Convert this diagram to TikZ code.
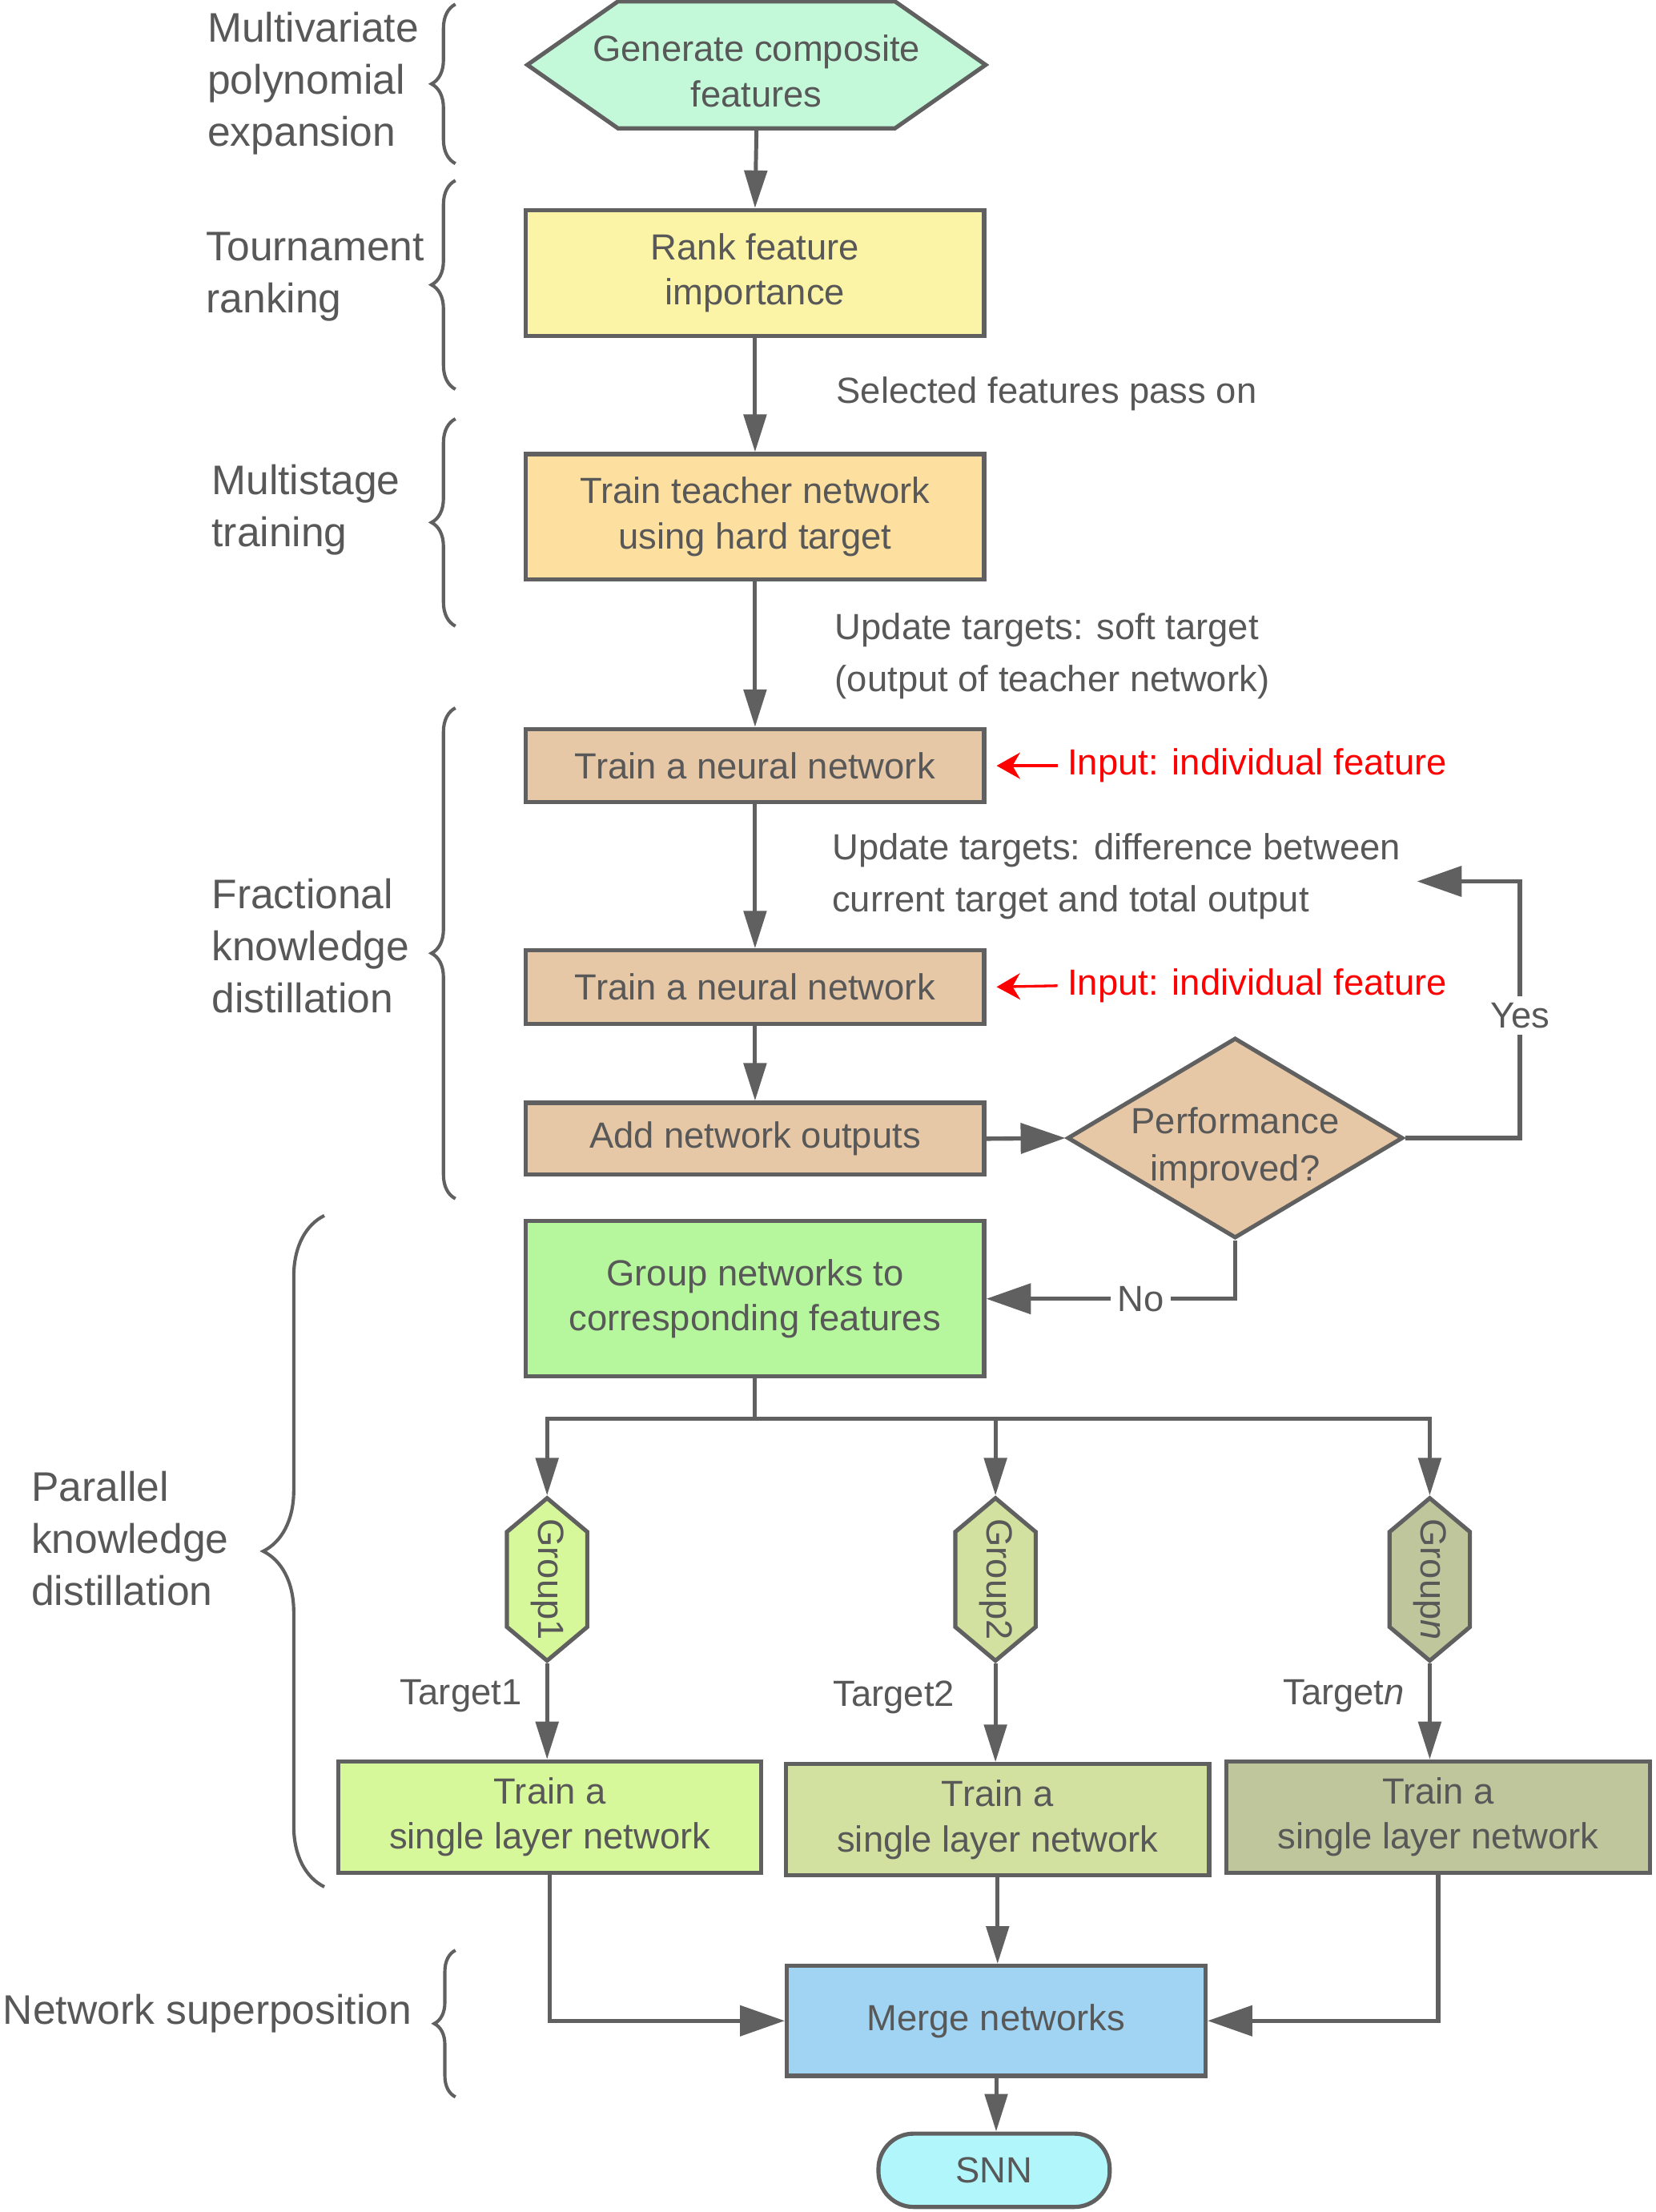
\documentclass[tikz,border=0pt]{standalone}
\usepackage{fontspec}
\setmainfont{Liberation Sans}
\usepackage{graphicx}
\usetikzlibrary{arrows.meta,shapes.geometric,shapes.symbols,decorations.pathreplacing}

\definecolor{linegray}{HTML}{606060}
\definecolor{txtgray}{HTML}{585858}
\definecolor{mint}{HTML}{C3F9D9}
\definecolor{lemon}{HTML}{FBF3A6}
\definecolor{apricot}{HTML}{FDE0A0}
\definecolor{tan}{HTML}{E6C7A6}
\definecolor{leaf}{HTML}{B6F69C}
\definecolor{grpone}{HTML}{D7F79B}
\definecolor{grptwo}{HTML}{D2E19F}
\definecolor{grpn}{HTML}{BFC69C}
\definecolor{sky}{HTML}{A1D4F2}
\definecolor{aqua}{HTML}{B1F6FA}

% text that takes no room, so the pointed shapes keep their size
\newcommand{\slimtext}[1]{\raisebox{-0.4cm}[0pt][0pt]{\makebox[0pt]{\begin{tabular}{@{}c@{}}#1\end{tabular}}}}
\newcommand{\downtext}[1]{\rotatebox{-90}{\makebox[0pt]{#1}}}

\tikzset{
  box/.style={draw=linegray, line width=2.5pt, text=txtgray, align=center,
    inner sep=0pt, minimum width=9.75cm, font=\fontsize{22}{27.3}\selectfont},
  smallbox/.style={box, minimum width=9cm, minimum height=2.37cm},
  hexbox/.style={box, shape=signal, signal to=west and east, signal pointer angle=70},
  hexv/.style={box, shape=signal, signal to=north and south, signal pointer angle=100,
    minimum width=1.71cm, minimum height=2.61cm},
  flow/.style={draw=linegray, line width=2.4pt, -{Triangle[length=0.8cm,width=0.48cm]}},
  bigflow/.style={draw=linegray, line width=2.6pt, -{Triangle[length=0.95cm,width=0.64cm]}},
  plain/.style={draw=linegray, line width=2.4pt},
  redarr/.style={draw=red, line width=1.6pt, -{Stealth[length=0.5cm,width=0.56cm]}},
  lbl/.style={text=txtgray, align=left, anchor=west, inner sep=0pt,
    font=\fontsize{22}{31.5}\selectfont},
  stage/.style={lbl, font=\fontsize{25}{31.5}\selectfont},
  tgt/.style={text=txtgray, inner xsep=0.5cm, font=\fontsize{22}{27}\selectfont},
  redlbl/.style={lbl, text=red, inner xsep=0.21cm},
  grpbrace/.style={draw=linegray, line width=2pt, decorate, decoration={brace, amplitude=#1}},
}

\begin{document}
\begin{tikzpicture}[x=0.03cm, y=-0.03cm]
\useasboundingbox (0,0) rectangle (1174,1568.6);

% Stage labels and braces
\node[stage] (lexp) at (147,59) {Multivariate\\polynomial\\expansion};
\node[stage] (lrank) at (146,196.5) {Tournament\\ranking};
\node[stage] (lstage) at (150,361.5) {Multistage\\training};
\node[stage] (lfrac) at (150,671) {Fractional\\knowledge\\distillation};
\node[stage] (lpar) at (22,1091) {Parallel\\knowledge\\distillation};
\node[stage] (lsup) at (2,1428) {Network superposition};

\draw[grpbrace=0.51cm] (323,116) -- (323,3);
\draw[grpbrace=0.51cm] (323,276) -- (323,128);
\draw[grpbrace=0.51cm] (323,444) -- (323,297);
\draw[grpbrace=0.51cm] (323,850) -- (323,502);
\draw[grpbrace=1.3cm] (230,1338) -- (230,862);
\draw[grpbrace=0.45cm] (323,1487) -- (323,1383);

% Main flow
\node[hexbox, fill=mint, minimum height=2.7cm] (gen) at (536.5,46) {\slimtext{Generate composite\\features}};
\node[box, fill=lemon, minimum height=2.67cm] (rank) at (535.5,193.5) {Rank feature\\importance};
\node[box, fill=apricot, minimum height=2.67cm] (teacher) at (535.5,366.5) {Train teacher network\\using hard target};
\node[box, fill=tan, minimum height=1.56cm] (train1) at (535.5,543) {Train a neural network};
\node[box, fill=tan, minimum height=1.56cm] (train2) at (535.5,700) {Train a neural network};
\node[box, fill=tan, minimum height=1.53cm] (addout) at (535.5,807.5) {Add network outputs};
\node[box, fill=tan, shape=diamond, aspect=1.68, minimum width=7.14cm, minimum height=4.26cm] (perf) at (876,807) {\raisebox{-0.4cm}[0pt][0pt]{\begin{tabular}{@{}c@{}}Performance\\[0.03cm]improved?\end{tabular}}};
\node[box, fill=leaf, minimum height=3.3cm] (group) at (535.5,921) {Group networks to\\corresponding features};

\node[hexv, fill=grpone] (g1) at (388,1120) {\downtext{Group1}};
\node[hexv, fill=grptwo] (g2) at (706,1120) {\downtext{Group2}};
\node[hexv, fill=grpn] (g3) at (1014,1120) {\downtext{Group\textit{n}}};

\node[smallbox, fill=grpone] (s1) at (390,1288.5) {Train a\\single layer network};
\node[smallbox, fill=grptwo] (s2) at (707.5,1290.5) {Train a\\single layer network};
\node[smallbox, fill=grpn] (s3) at (1020,1288.5) {Train a\\single layer network};

\node[box, fill=sky, minimum width=8.91cm, minimum height=2.34cm] (merge) at (706.5,1433) {Merge networks};
\node[box, fill=aqua, minimum width=4.92cm, minimum height=1.56cm, rounded corners=0.75cm] (snn) at (705,1539) {SNN};

% Side notes
\node[lbl] (nsel) at (593,279) {Selected features pass on};
\node[lbl] (nsoft) at (592,465.5) {Update targets: soft target\\(output of teacher network)};
\node[lbl] (ndiff) at (590,621.5) {Update targets: difference between\\current target and total output};
\node[redlbl] (in1) at (750,543) {Input: individual feature};
\node[redlbl] (in2) at (750,699) {Input: individual feature};

% Connectors
\draw[flow] (gen.south) -- (rank.north);
\draw[flow] (rank.south) -- (teacher.north);
\draw[flow] (teacher.south) -- (train1.north);
\draw[flow] (train1.south) -- (train2.north);
\draw[flow] (train2.south) -- (addout.north);
\draw[bigflow] (addout.east) -- (perf.west);
\draw[redarr, shorten >=0.22cm] (in1.west) -- (train1.east);
\draw[redarr, shorten >=0.22cm] (in2.west) -- (train2.east);

\coordinate (yescorner) at (1078,625);
\coordinate (yestip) at (1005,625);
\draw[bigflow] (perf.east) -| (yescorner) -- (yestip);
\node[lbl, anchor=center, fill=white, inner sep=4pt] (yes) at (1078,720) {Yes};
\draw[bigflow] (perf.south) |- node[pos=0.69, fill=white, text=txtgray, inner sep=4pt, font=\fontsize{22}{27}\selectfont] (no) {No} (group.east);

\coordinate (split) at (535.5,1006);
\draw[plain] (group.south) -- (split);
\draw[flow] (split) -| (g1.north);
\draw[flow] (split) -| (g2.north);
\draw[flow] (split) -| (g3.north);

\draw[flow] (g1.south) -- node[pos=0.34, left, tgt] (t1) {Target1} (g1.south |- s1.north);
\draw[flow] (g2.south) -- node[pos=0.34, left, tgt, xshift=-0.33cm] (t2) {Target2} (g2.south |- s2.north);
\draw[flow] (g3.south) -- node[pos=0.34, left, tgt] (tn) {Target\textit{n}} (g3.south |- s3.north);

\draw[bigflow] (s1.south) |- (merge.west);
\draw[flow] (s2.south) -- (s2.south |- merge.north);
\draw[bigflow] (s3.south) |- (merge.east);
\draw[flow] (merge.south) -- (merge.south |- snn.north);
\end{tikzpicture}
\end{document}
